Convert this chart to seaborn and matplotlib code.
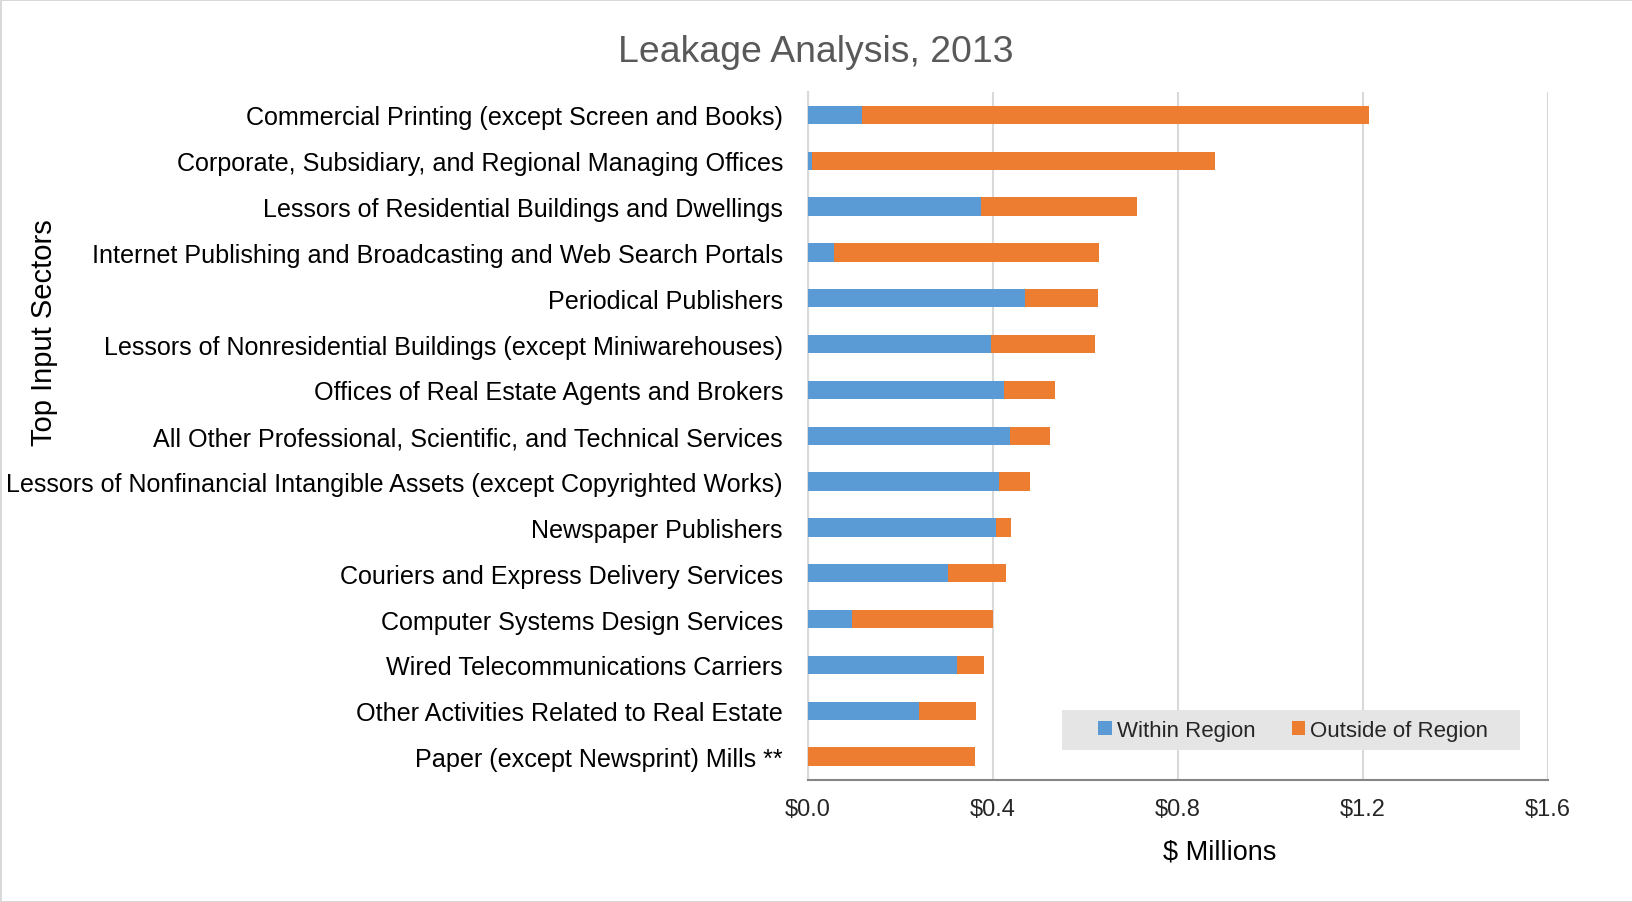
import matplotlib
matplotlib.use("Agg")
import matplotlib.pyplot as plt
import seaborn as sns
import pandas as pd
from matplotlib.patches import Patch, Rectangle

# ---------------- data ----------------
sectors = [
    "Commercial Printing (except Screen and Books)",
    "Corporate, Subsidiary, and Regional Managing Offices",
    "Lessors of Residential Buildings and Dwellings",
    "Internet Publishing and Broadcasting and Web Search Portals",
    "Periodical Publishers",
    "Lessors of Nonresidential Buildings (except Miniwarehouses)",
    "Offices of Real Estate Agents and Brokers",
    "All Other Professional, Scientific, and Technical Services",
    "Lessors of Nonfinancial Intangible Assets (except Copyrighted Works)",
    "Newspaper Publishers",
    "Couriers and Express Delivery Services",
    "Computer Systems Design Services",
    "Wired Telecommunications Carriers",
    "Other Activities Related to Real Estate",
    "Paper (except Newsprint) Mills **",
]
within_region = [0.117, 0.008, 0.374, 0.057, 0.469, 0.395, 0.424, 0.436,
                 0.414, 0.407, 0.303, 0.095, 0.322, 0.239, 0.000]
outside_region = [1.097, 0.871, 0.337, 0.572, 0.157, 0.225, 0.110, 0.088,
                  0.067, 0.032, 0.125, 0.306, 0.059, 0.124, 0.362]
x_ticks = [0.0, 0.4, 0.8, 1.2, 1.6]
x_tick_labels = ["$0.0", "$0.4", "$0.8", "$1.2", "$1.6"]
series_names = ["Within Region", "Outside of Region"]

BLUE = "#5B9BD5"
ORANGE = "#ED7D31"

df = pd.DataFrame({
    "sector": sectors,
    "within": within_region,
    "outside": outside_region,
})
df["total"] = df["within"] + df["outside"]

# ---------------- figure ----------------
sns.set_theme(style="white")
plt.rcParams["font.family"] = ["Liberation Sans", "DejaVu Sans"]

W, H = 1633, 903
fig = plt.figure(figsize=(W / 100, H / 100), dpi=100,
                 linewidth=2, edgecolor="#D9D9D9", facecolor="white")
ax = fig.add_axes([808 / W, (H - 780.5) / H, 740 / W, 687.5 / H])

sns.barplot(data=df, y="sector", x="total", color=ORANGE, width=0.4,
            orient="h", saturation=1, ax=ax, zorder=3, linewidth=0)
sns.barplot(data=df, y="sector", x="within", color=BLUE, width=0.4,
            orient="h", saturation=1, ax=ax, zorder=4, linewidth=0)

ax.set_xlim(0, 1.6)
ax.set_ylim(len(sectors) - 0.5, -0.5)
ax.set_xticks(x_ticks)
ax.set_xticklabels(x_tick_labels, fontsize=17, color="#262626")
ax.tick_params(axis="x", direction="inout", length=10, width=1.5,
               color="#868686", pad=8)
ax.tick_params(axis="y", length=0, pad=18, labelsize=18.1, labelcolor="black")

ax.grid(axis="x", color="#D9D9D9", linewidth=1.5, zorder=0)
ax.grid(axis="y", visible=False)
ax.set_axisbelow(True)
for s in ["top", "right"]:
    ax.spines[s].set_visible(False)
ax.spines["left"].set_color("#D9D9D9")
ax.spines["left"].set_linewidth(1.5)
ax.spines["bottom"].set_color("#868686")
ax.spines["bottom"].set_linewidth(1.5)
ax.spines["bottom"].set_zorder(5)

ax.set_xlabel("")
ax.set_ylabel("")

# legend background + legend
ax.add_patch(Rectangle((0.3432, 0.0433), 0.619, 0.0578, transform=ax.transAxes,
                       facecolor="#E5E5E5", edgecolor="none", zorder=2))
handles = [Patch(facecolor=BLUE, edgecolor="none"),
           Patch(facecolor=ORANGE, edgecolor="none")]
ax.legend(handles, series_names, loc="center", bbox_to_anchor=(0.656, 0.072),
          ncol=2, frameon=False, fontsize=16, handlelength=0.6, handleheight=0.6,
          handletextpad=0.25, columnspacing=1.6, borderaxespad=0)

fig.text(816 / W, 1 - 52 / H, "Leakage Analysis, 2013", ha="center", va="center",
         fontsize=26.9, color="#595959")
fig.text(44 / W, 1 - 333 / H, "Top Input Sectors", ha="center", va="center",
         rotation=90, fontsize=21, color="black")
fig.text(1220 / W, 1 - 853 / H, "$ Millions", ha="center", va="center",
         fontsize=19.5, color="black")

fig.savefig("out.png", dpi=100)
